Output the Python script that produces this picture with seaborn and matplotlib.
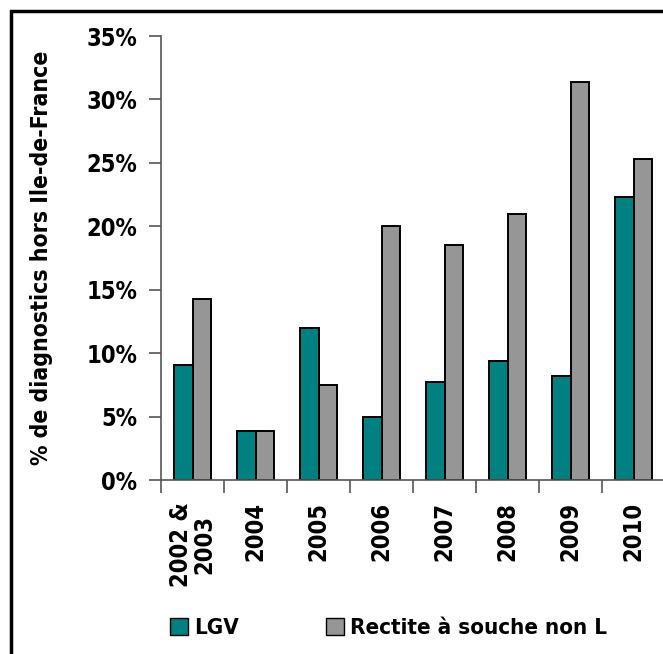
import numpy as np
import pandas as pd
import seaborn as sns
import matplotlib.pyplot as plt
import matplotlib.patches as mpatches
from matplotlib.ticker import FixedLocator

years = ["2002 &\n2003", "2004", "2005", "2006", "2007", "2008", "2009", "2010"]
lgv = [9.1, 3.9, 12.0, 5.0, 7.7, 9.4, 8.2, 22.3]
rectite = [14.3, 3.9, 7.5, 20.0, 18.5, 21.0, 31.4, 25.3]
series_names = ["LGV", "Rectite à souche non L"]
colors = ["#008080", "#969696"]
y_ticks = [0, 5, 10, 15, 20, 25, 30, 35]

sns.set_style("white")
plt.rcParams["font.family"] = ["DejaVu Sans"]
plt.rcParams["font.stretch"] = "condensed"
plt.rcParams["font.weight"] = "bold"
plt.rcParams["text.color"] = "black"
plt.rcParams["xtick.color"] = "black"
plt.rcParams["ytick.color"] = "black"
plt.rcParams["axes.labelcolor"] = "black"

df = pd.DataFrame({
    "year": years * 2,
    "value": lgv + rectite,
    "serie": [series_names[0]] * len(years) + [series_names[1]] * len(years),
})

fig = plt.figure(figsize=(6.63, 6.54), dpi=100)
ax = fig.add_axes([161 / 663, 1 - 480 / 654, 504 / 663, 444 / 654])

sns.barplot(
    data=df,
    x="year",
    y="value",
    hue="serie",
    palette=colors,
    saturation=1,
    width=0.6,
    edgecolor="black",
    linewidth=1.4,
    gap=0,
    ax=ax,
    legend=False,
)

ax.set_xlim(-0.5, len(years) - 0.5)
ax.set_ylim(0, 35)
ax.set_yticks(y_ticks)
ax.set_yticklabels([f"{t}%" for t in y_ticks], fontsize=17, fontweight="bold",
                   fontstretch="condensed")
ax.set_xticks(np.arange(len(years)))
ax.set_xticklabels(years, rotation=90, fontsize=17, fontweight="bold",
                   fontstretch="condensed", va="top", ha="center", linespacing=0.95)
ax.xaxis.set_minor_locator(FixedLocator(np.arange(len(years) + 1) - 0.5))
ax.tick_params(axis="x", which="major", length=0, pad=16)
ax.tick_params(axis="x", which="minor", length=9, width=1.2, color="#555555",
               direction="out", bottom=True)
ax.tick_params(axis="y", length=9, width=1.2, color="#555555", direction="out",
               left=True, pad=8)

ax.set_xlabel("")
ax.set_ylabel("% de diagnostics hors Ile-de-France", fontsize=16.5,
              fontweight="bold", fontstretch="condensed", labelpad=24)

sns.despine(ax=ax, top=True, right=True)
for s in ["left", "bottom"]:
    ax.spines[s].set_color("#555555")
    ax.spines[s].set_linewidth(1.2)

# Legend
handles = [
    mpatches.Patch(facecolor=colors[0], edgecolor="black", label=series_names[0]),
    mpatches.Patch(facecolor=colors[1], edgecolor="black", label=series_names[1]),
]
fig.legend(
    handles=handles,
    loc="center left",
    bbox_to_anchor=(150 / 663, 1 - 628 / 654),
    ncol=2,
    frameon=False,
    handlelength=0.8,
    handleheight=0.8,
    handletextpad=0.3,
    columnspacing=3.9,
    prop={"weight": "bold", "size": 16, "stretch": "condensed"},
)

# Outer frame
fig.patches.append(mpatches.Rectangle(
    (11 / 663, -0.05), 1.2, 1 - 11 / 654 + 0.05,
    transform=fig.transFigure, fill=False, edgecolor="black", linewidth=2.5,
))

fig.savefig("out.png", dpi=100)
